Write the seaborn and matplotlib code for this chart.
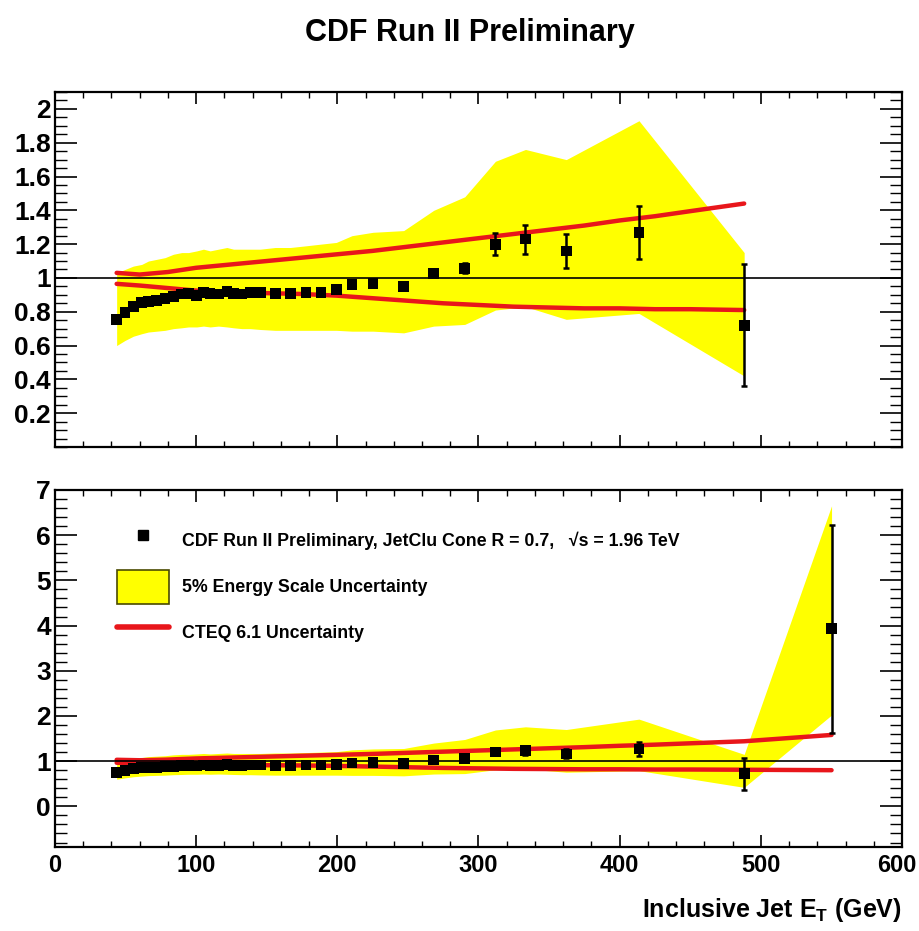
import numpy as np
import pandas as pd
import seaborn as sns
import matplotlib
matplotlib.use('Agg')
import matplotlib.pyplot as plt
from matplotlib.lines import Line2D
from matplotlib.patches import Patch
from matplotlib.ticker import MultipleLocator
from matplotlib.transforms import ScaledTranslation

# measured ratio data / theory vs inclusive jet ET (GeV)
jet_et = [43.7, 49.6, 55.5, 61.5, 66.2, 72.1, 78.0, 83.9, 89.8, 94.6,
          100.5, 105.2, 109.9, 115.8, 121.8, 126.5, 132.4, 138.3, 145.4, 156.0,
          166.7, 177.8, 188.4, 199.3, 210.4, 225.3, 247.0, 268.3, 290.3, 312.0,
          333.3, 362.2, 413.7, 488.2, 550.1]
ratio = [0.753, 0.796, 0.83, 0.855, 0.86, 0.865, 0.88, 0.89, 0.905, 0.91,
         0.895, 0.915, 0.91, 0.905, 0.92, 0.91, 0.905, 0.914, 0.914, 0.91,
         0.91, 0.914, 0.914, 0.93, 0.959, 0.969, 0.949, 1.027, 1.057, 1.20,
         1.23, 1.16, 1.27, 0.72, 3.93]
ratio_err = [0.005, 0.005, 0.005, 0.005, 0.005, 0.005, 0.005, 0.005, 0.005, 0.005,
             0.005, 0.005, 0.005, 0.005, 0.006, 0.006, 0.007, 0.007, 0.008, 0.009,
             0.01, 0.011, 0.012, 0.013, 0.015, 0.017, 0.02, 0.022, 0.03, 0.065,
             0.086, 0.10, 0.157, 0.36, 2.3]

# 5% energy scale band, upper and lower edges at each data point
escale_hi = [1.03, 1.05, 1.07, 1.08, 1.10, 1.11, 1.12, 1.14, 1.15, 1.15,
             1.16, 1.17, 1.16, 1.17, 1.18, 1.17, 1.17, 1.17, 1.17, 1.18,
             1.18, 1.19, 1.20, 1.21, 1.25, 1.27, 1.28, 1.40, 1.48, 1.69,
             1.76, 1.70, 1.93, 1.15, 6.65]
escale_lo = [0.60, 0.63, 0.655, 0.67, 0.68, 0.685, 0.69, 0.70, 0.705, 0.71,
             0.71, 0.715, 0.71, 0.715, 0.71, 0.705, 0.70, 0.70, 0.695, 0.69,
             0.69, 0.69, 0.69, 0.69, 0.685, 0.685, 0.675, 0.715, 0.725, 0.81,
             0.83, 0.755, 0.79, 0.42, 2.02]

# CTEQ 6.1 pdf uncertainty curves
cteq_et = [43.7, 60, 80, 100, 125, 150, 175, 200, 225, 250,
           275, 300, 325, 350, 375, 400, 425, 450, 488.2, 550.1]
cteq_hi = [1.03, 1.02, 1.035, 1.06, 1.08, 1.10, 1.12, 1.14, 1.16, 1.185,
           1.21, 1.235, 1.26, 1.285, 1.31, 1.34, 1.365, 1.395, 1.44, 1.58]
cteq_lo = [0.965, 0.955, 0.94, 0.925, 0.915, 0.91, 0.905, 0.895, 0.88, 0.865,
           0.85, 0.84, 0.83, 0.825, 0.82, 0.82, 0.815, 0.815, 0.81, 0.80]

data = pd.DataFrame({'et': jet_et, 'ratio': ratio, 'err': ratio_err,
                     'hi': escale_hi, 'lo': escale_lo})
cteq = pd.DataFrame({'et': cteq_et, 'hi': cteq_hi, 'lo': cteq_lo})

sns.set_style('ticks', rc={'axes.edgecolor': 'black', 'xtick.color': 'black',
                           'ytick.color': 'black', 'text.color': 'black',
                           'axes.labelcolor': 'black'})
font = ['Liberation Sans Narrow', 'Liberation Sans', 'DejaVu Sans']
plt.rcParams['font.family'] = font
plt.rcParams['font.weight'] = 'bold'
plt.rcParams['mathtext.default'] = 'regular'

YELLOW = '#ffff00'
RED = '#e8161b'


def draw_panel(ax, d, c):
    ax.fill_between(d['et'], d['lo'], d['hi'], color=YELLOW, lw=0, zorder=1)
    for col in ['hi', 'lo']:
        sns.lineplot(x='et', y=col, data=c, ax=ax, color=RED, lw=3.2,
                     estimator=None, sort=False, zorder=2)
    ax.axhline(1.0, color='black', lw=1.2, zorder=3)
    ax.errorbar(d['et'], d['ratio'], yerr=d['err'], fmt='none', ecolor='black',
                elinewidth=1.8, capsize=2, capthick=1.8, zorder=4)
    sns.scatterplot(x='et', y='ratio', data=d, ax=ax, marker='s', s=60,
                    color='black', edgecolor='none', zorder=5)
    ax.set_xlim(0, 600)
    ax.set_xlabel('')
    ax.set_ylabel('')
    ax.xaxis.set_major_locator(MultipleLocator(100))
    ax.xaxis.set_minor_locator(MultipleLocator(20))
    ax.tick_params(axis='x', which='major', direction='in', length=8.5, width=1.2,
                   top=True, bottom=True, labelsize=17, pad=5)
    ax.tick_params(axis='x', which='minor', direction='in', length=4.5, width=1.0,
                   top=True, bottom=True)
    ax.tick_params(axis='y', which='major', direction='in', length=16, width=1.2,
                   left=True, right=True, labelsize=19, pad=3)
    ax.tick_params(axis='y', which='minor', direction='in', length=8.5, width=1.0,
                   left=True, right=True)
    for sp in ax.spines.values():
        sp.set_linewidth(1.6)
        sp.set_visible(True)


fig = plt.figure(figsize=(9.19, 9.31), dpi=100)
ax_top = fig.add_axes([0.0598, 0.5199, 0.9217, 0.3813])
ax_bot = fig.add_axes([0.0598, 0.0902, 0.9217, 0.3835])

# last bin lies outside the upper panel range, ROOT drops it entirely
draw_panel(ax_top, data.iloc[:-1], cteq.iloc[:-1])
ax_top.set_ylim(0, 2.1)
ax_top.set_yticks([0.2, 0.4, 0.6, 0.8, 1.0, 1.2, 1.4, 1.6, 1.8, 2.0])
ax_top.set_yticklabels(['0.2', '0.4', '0.6', '0.8', '1', '1.2', '1.4', '1.6', '1.8', '2'])
ax_top.yaxis.set_minor_locator(MultipleLocator(0.05))
ax_top.tick_params(axis='x', labelbottom=False)

draw_panel(ax_bot, data, cteq)
ax_bot.set_ylim(-0.9, 7)
ax_bot.set_yticks(range(0, 8))
ax_bot.yaxis.set_minor_locator(MultipleLocator(0.2))

for ax in (ax_top, ax_bot):
    for lab in ax.get_xticklabels() + ax.get_yticklabels():
        lab.set_fontweight('bold')

# keep the "600" label inside the canvas, as in the original
last_tick = [t for t in ax_bot.xaxis.get_major_ticks() if abs(t.get_loc() - 600) < 1e-6]
for t in last_tick:
    t.label1.set_transform(t.label1.get_transform() +
                           ScaledTranslation(-0.05, 0, fig.dpi_scale_trans))

handles = [
    Line2D([], [], marker='s', ls='none', color='black', markersize=7),
    Patch(facecolor=YELLOW, edgecolor='#4a4a00', lw=1.2),
    Line2D([], [], color=RED, lw=4),
]
labels = ['CDF Run II Preliminary, JetClu Cone R = 0.7,   \u221as = 1.96 TeV',
          '5% Energy Scale Uncertainty',
          'CTEQ 6.1 Uncertainty']
ax_bot.legend(handles, labels, loc='upper left', bbox_to_anchor=(0.0732, 0.905),
              frameon=False, handlelength=2.92, handleheight=2.56,
              labelspacing=0.675, handletextpad=0.73, borderpad=0, borderaxespad=0,
              prop={'family': font, 'weight': 'bold', 'size': 12.8})

fig.text(470 / 919, 1 - 33 / 931, 'CDF Run II Preliminary', ha='center', va='center',
         fontsize=22, fontweight='bold')
fig.text(902 / 919, 1 - 910 / 931, r'Inclusive Jet E$_{T}$ (GeV)', ha='right', va='center',
         fontsize=18, fontweight='bold')

fig.savefig('out.png', dpi=100)
